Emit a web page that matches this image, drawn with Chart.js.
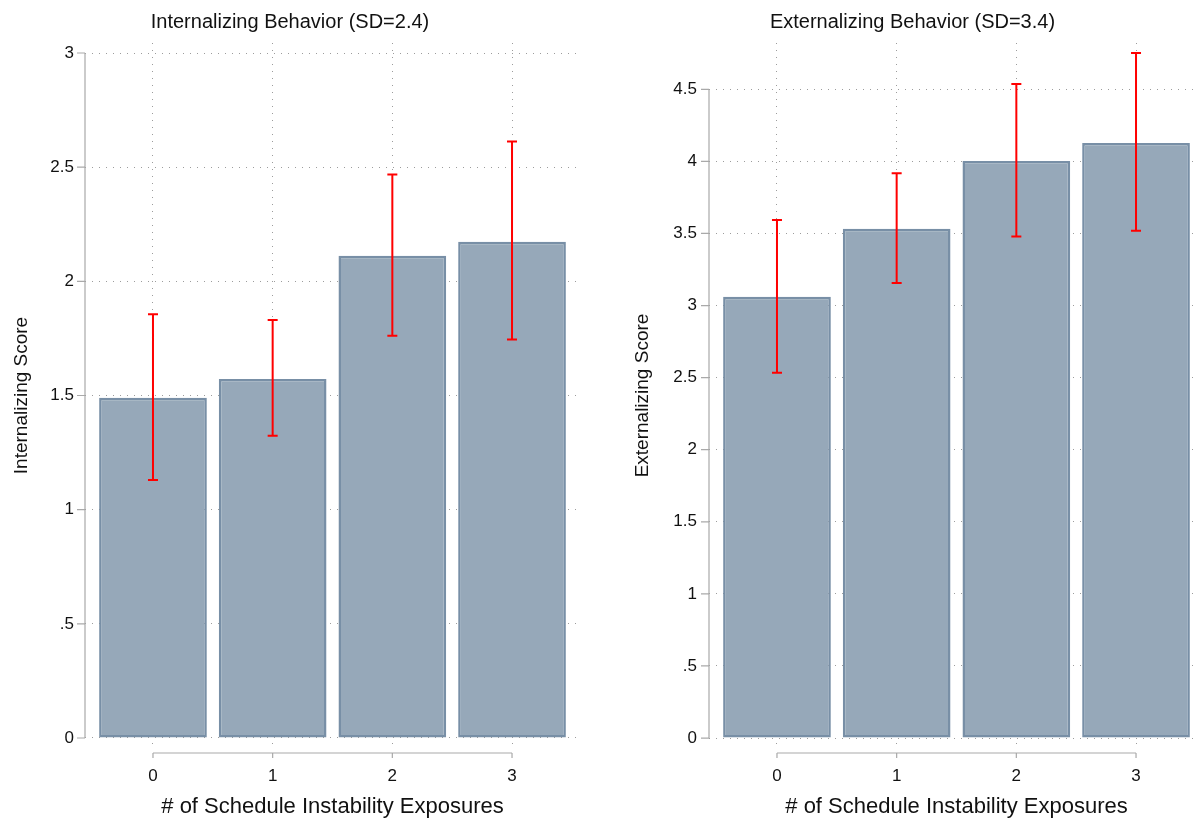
<!DOCTYPE html>
<html>
<head>
<meta charset="utf-8">
<script src="https://cdn.jsdelivr.net/npm/chart.js@4/dist/chart.umd.min.js"></script>
<style>
  body { margin: 0; background: #fff; overflow: hidden; width: 1194px; height: 821px; position: relative; }
  canvas { position: absolute; top: 0; }
  #intChart { left: 0; }
  #extChart { left: 621px; }
</style>
</head>
<body>
<canvas id="intChart" width="580" height="821"></canvas>
<canvas id="extChart" width="585" height="821"></canvas>
<script>
// data
const categories = [0, 1, 2, 3];

const intMeans = [1.490, 1.572, 2.112, 2.173];
const intLower = [1.130, 1.324, 1.762, 1.745];
const intUpper = [1.856, 1.831, 2.468, 2.612];

const extMeans = [3.061, 3.533, 4.003, 4.128];
const extLower = [2.534, 3.156, 3.478, 3.519];
const extUpper = [3.593, 3.917, 4.537, 4.752];

const intTicks = [0, 0.5, 1, 1.5, 2, 2.5, 3];
const extTicks = [0, 0.5, 1, 1.5, 2, 2.5, 3, 3.5, 4, 4.5];

const FONT = '"Liberation Sans", Arial, Helvetica, sans-serif';
const AXIS_GREY = '#a9a9a9';
const GRID_GREY = '#9c9c9c';

function fmt(v) {
  // Stata style: .5 instead of 0.5
  return String(v).replace(/^0\./, '.');
}

// draws Stata-like axis lines, tick marks and the red CI bars
const stataPlugin = {
  id: 'stata',
  afterDatasetsDraw(chart, args, opts) {
    const ctx = chart.ctx;
    const x = chart.scales.x, y = chart.scales.y;
    const area = chart.chartArea;
    ctx.save();

    // y axis
    ctx.strokeStyle = AXIS_GREY;
    ctx.lineWidth = 1.2;
    ctx.beginPath();
    ctx.moveTo(area.left, y.getPixelForValue(opts.yTicks[0]));
    ctx.lineTo(area.left, y.getPixelForValue(opts.yTicks[opts.yTicks.length - 1]));
    opts.yTicks.forEach(v => {
      const py = y.getPixelForValue(v);
      ctx.moveTo(area.left - 8, py);
      ctx.lineTo(area.left, py);
    });
    // x axis, set a little below the plot region
    const ay = area.bottom + 5;
    ctx.moveTo(x.getPixelForValue(categories[0]), ay);
    ctx.lineTo(x.getPixelForValue(categories[categories.length - 1]), ay);
    categories.forEach(c => {
      const px = x.getPixelForValue(c);
      ctx.moveTo(px, ay);
      ctx.lineTo(px, ay + 5);
    });
    ctx.stroke();

    // confidence intervals
    ctx.strokeStyle = '#ff0000';
    ctx.lineWidth = 2;
    ctx.beginPath();
    categories.forEach((c, i) => {
      const px = x.getPixelForValue(c);
      const lo = y.getPixelForValue(opts.lower[i]);
      const hi = y.getPixelForValue(opts.upper[i]);
      ctx.moveTo(px, lo); ctx.lineTo(px, hi);
      ctx.moveTo(px - 5, lo); ctx.lineTo(px + 5, lo);
      ctx.moveTo(px - 5, hi); ctx.lineTo(px + 5, hi);
    });
    ctx.stroke();
    ctx.restore();
  }
};

function makeChart(id, cfg) {
  return new Chart(document.getElementById(id), {
    type: 'bar',
    data: {
      datasets: [{
        data: categories.map((c, i) => ({ x: c, y: cfg.means[i] })),
        backgroundColor: 'rgb(150,168,185)',
        borderColor: 'rgb(120,143,166)',
        borderWidth: 2.5,
        borderSkipped: false,
        barPercentage: 0.9,
        categoryPercentage: 1
      }]
    },
    plugins: [stataPlugin],
    options: {
      responsive: false,
      animation: false,
      layout: { padding: { left: 0, right: cfg.padRight, top: 0, bottom: 0 } },
      plugins: {
        legend: { display: false },
        tooltip: { enabled: false },
        title: {
          display: true,
          text: cfg.title,
          color: '#111',
          font: { family: FONT, size: 20, weight: 'normal' },
          padding: { top: 10, bottom: 9 }
        },
        stata: { yTicks: cfg.yTicks, lower: cfg.lower, upper: cfg.upper }
      },
      scales: {
        x: {
          type: 'linear',
          offset: false,
          min: -0.568,
          max: 3.568,
          afterBuildTicks: s => { s.ticks = categories.map(v => ({ value: v })); },
          afterFit: s => { s.height = 73; },
          grid: { color: GRID_GREY, lineWidth: 1, drawTicks: false, offset: false },
          border: { display: false, dash: [1, 6] },
          ticks: {
            color: '#111',
            padding: 18,
            font: { family: FONT, size: 17 },
            callback: v => String(v)
          },
          title: {
            display: true,
            text: '# of Schedule Instability Exposures',
            color: '#111',
            font: { family: FONT, size: 22 },
            padding: { top: 0, bottom: 1 }
          }
        },
        y: {
          min: cfg.yMin,
          max: cfg.yMax,
          afterBuildTicks: s => { s.ticks = cfg.yTicks.map(v => ({ value: v })); },
          afterFit: s => { s.width = cfg.axisWidth; },
          grid: { color: GRID_GREY, lineWidth: 1, drawTicks: false },
          border: { display: false, dash: [1, 6] },
          ticks: {
            color: '#111',
            padding: cfg.labelPad,
            font: { family: FONT, size: 17 },
            callback: v => fmt(v)
          },
          title: {
            display: true,
            text: cfg.yTitle,
            color: '#111',
            font: { family: FONT, size: 19 },
            padding: { top: 10, bottom: 0 }
          }
        }
      }
    }
  });
}

makeChart('intChart', {
  title: 'Internalizing Behavior (SD=2.4)',
  yTitle: 'Internalizing Score',
  means: intMeans, lower: intLower, upper: intUpper,
  yTicks: intTicks, yMin: -0.0438, yMax: 3.0438,
  axisWidth: 85, labelPad: 11, padRight: 0
});

makeChart('extChart', {
  title: 'Externalizing Behavior (SD=3.4)',
  yTitle: 'Externalizing Score',
  means: extMeans, lower: extLower, upper: extUpper,
  yTicks: extTicks, yMin: -0.069, yMax: 4.821,
  axisWidth: 88, labelPad: 12, padRight: 2
});
</script>
</body>
</html>
